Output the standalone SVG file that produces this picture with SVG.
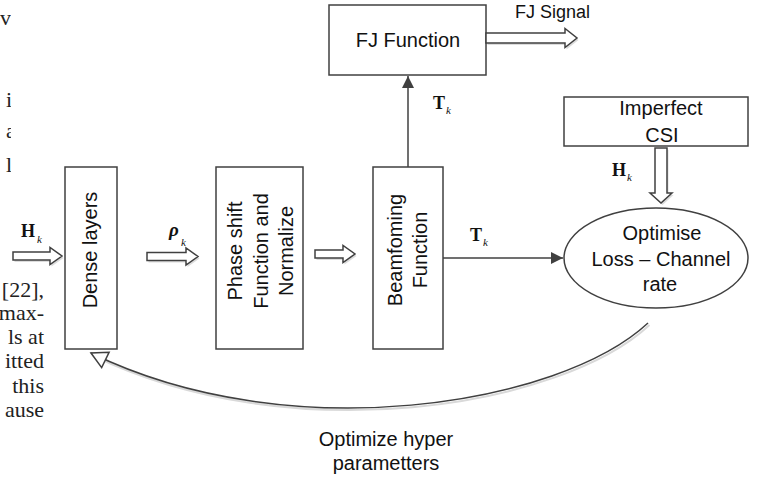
<svg xmlns="http://www.w3.org/2000/svg" width="768" height="480" viewBox="0 0 768 480">
  <style>
    .box { fill: #ffffff; stroke: #404040; stroke-width: 1.5; }
    .lbl { font-family: "Liberation Sans", Arial, sans-serif; font-size: 20px; fill: #111111; }
    .sm { font-size: 18px; }
    .math { font-family: "Liberation Serif", "Times New Roman", serif; fill: #111111; }
    .mb { font-size: 18px; font-weight: bold; }
    .sub { font-size: 11px; font-style: italic; }
    .page { font-family: "Liberation Serif", "Times New Roman", serif; font-size: 22px; fill: #222222; }
    .wire { fill: none; stroke: #404040; stroke-width: 1.5; }
    .hollow { fill: #ffffff; stroke: #404040; stroke-width: 1.5; stroke-linejoin: miter; }
    .shade { fill: none; stroke: #d9d9d9; stroke-width: 2; }
  </style>
  <defs>
    <marker id="solid" markerUnits="userSpaceOnUse" markerWidth="16" markerHeight="16" viewBox="-14 -8 16 16" refX="0" refY="0" orient="auto">
      <path d="M0,0 L-12,-6 L-12,6 Z" fill="#404040"/>
    </marker>
    <marker id="open" markerUnits="userSpaceOnUse" markerWidth="24" markerHeight="24" viewBox="-20 -12 24 24" refX="0" refY="0" orient="auto">
      <path d="M0,0 L-16,-8.5 L-16,8.5 Z" fill="#ffffff" stroke="#404040" stroke-width="1.5"/>
    </marker>
    <clipPath id="edge"><rect x="0" y="0" width="11" height="200"/></clipPath>
  </defs>

  <!-- surrounding page text -->
  <g id="page-text" class="page">
    <g clip-path="url(#edge)">
      <text x="0" y="25">va</text>
      <text x="6" y="107">i</text>
      <text x="6" y="138">a</text>
      <text x="6" y="172">l</text>
    </g>
    <g text-anchor="end">
      <text x="44" y="297">[22],</text>
      <text x="44" y="320">max-</text>
      <text x="44" y="344">ls  at</text>
      <text x="44" y="368">itted</text>
      <text x="44" y="393">this</text>
      <text x="44" y="417">ause</text>
    </g>
  </g>

  <!-- processing blocks -->
  <g id="dense">
    <rect class="box" x="65" y="167" width="52" height="182"/>
    <text class="lbl" transform="translate(97,250) rotate(-90)" text-anchor="middle">Dense layers</text>
  </g>
  <g id="phase">
    <rect class="box" x="216" y="167" width="87" height="182"/>
    <g class="lbl" text-anchor="middle">
      <text transform="translate(242,251) rotate(-90)">Phase shift</text>
      <text transform="translate(268,251) rotate(-90)">Function and</text>
      <text transform="translate(293,251) rotate(-90)">Normalize</text>
    </g>
  </g>
  <g id="beam">
    <rect class="box" x="373" y="167" width="70" height="182"/>
    <g class="lbl" text-anchor="middle">
      <text transform="translate(402,250) rotate(-90)">Beamfoming</text>
      <text transform="translate(427,250) rotate(-90)">Function</text>
    </g>
  </g>
  <g id="fj">
    <rect class="box" x="329" y="5" width="157" height="70"/>
    <text class="lbl" x="408" y="47" text-anchor="middle">FJ Function</text>
  </g>
  <g id="csi">
    <rect class="box" x="564" y="97" width="184" height="49"/>
    <text class="lbl" x="661" y="115" text-anchor="middle">Imperfect</text>
    <text class="lbl" x="662" y="142" text-anchor="middle">CSI</text>
  </g>
  <g id="optimise">
    <ellipse class="box" cx="656" cy="258" rx="92" ry="50"/>
    <g class="lbl" text-anchor="middle">
      <text x="662" y="240">Optimise</text>
      <text x="661" y="266">Loss – Channel</text>
      <text x="660" y="291">rate</text>
    </g>
  </g>

  <!-- connectors -->
  <g id="connectors">
    <!-- feedback loop -->
    <path class="shade" d="M649.5,325 C561.5,407 291.5,452 93,355.5"/>
    <path class="wire" d="M648,323 C560,405 290,450 91,353" marker-end="url(#open)"/>
    <!-- beamforming to FJ function -->
    <path class="wire" d="M408,167 V76" marker-end="url(#solid)"/>
    <!-- beamforming to loss -->
    <path class="wire" d="M443,258 H563" marker-end="url(#solid)"/>

    <!-- block arrows -->
    <g transform="translate(1.5,2)" fill="#dcdcdc" stroke="none">
      <path d="M13,252 H50 V247.5 L62,256 L50,264.5 V260 H13 Z"/>
      <path d="M147,252.5 H186 V248 L198,256.5 L186,265 V260.5 H147 Z"/>
      <path d="M315,250 H343 V245.5 L355,254 L343,262.5 V258 H315 Z"/>
      <path d="M486,33 H565 V28.5 L577,38 L565,47.5 V43 H486 Z"/>
      <path d="M655,148 V193 H650 L661,203 L672,193 H667 V148 Z"/>
    </g>
    <path class="hollow" d="M13,252 H50 V247.5 L62,256 L50,264.5 V260 H13 Z"/>
    <path class="hollow" d="M147,252.5 H186 V248 L198,256.5 L186,265 V260.5 H147 Z"/>
    <path class="hollow" d="M315,250 H343 V245.5 L355,254 L343,262.5 V258 H315 Z"/>
    <path class="hollow" d="M486,33 H565 V28.5 L577,38 L565,47.5 V43 H486 Z"/>
    <path class="hollow" d="M655,148 V193 H650 L661,203 L672,193 H667 V148 Z"/>
  </g>

  <!-- connector labels -->
  <g id="labels">
    <text class="lbl sm" x="515" y="18">FJ Signal</text>
    <text class="lbl" x="386" y="446" text-anchor="middle">Optimize hyper</text>
    <text class="lbl" x="386" y="470" text-anchor="middle">parametters</text>

    <g class="math">
      <text class="mb" x="21" y="237" font-size="20">H</text>
      <text class="sub" x="37" y="243">k</text>
      <text x="169" y="236" font-size="19" font-style="italic" font-weight="bold">ρ</text>
      <text class="sub" x="181" y="246" font-size="10">k</text>
      <text class="mb" x="433" y="109">T</text>
      <text class="sub" x="446" y="114">k</text>
      <text class="mb" x="470" y="241">T</text>
      <text class="sub" x="483" y="246">k</text>
      <text class="mb" x="612" y="176">H</text>
      <text class="sub" x="627" y="181">k</text>
    </g>
  </g>
</svg>
